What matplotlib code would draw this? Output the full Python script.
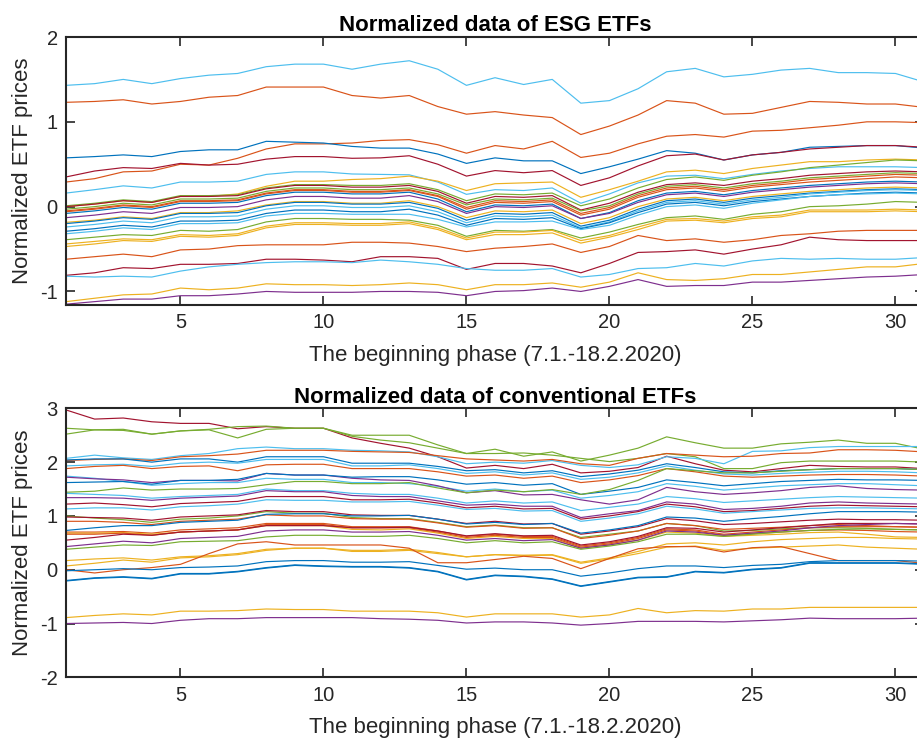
import matplotlib
matplotlib.use("Agg")
import matplotlib.pyplot as plt

# MATLAB default line colours
B, O, Y, P, G, LB, DR = '#0072BD', '#D95319', '#EDB120', '#7E2F8E', '#77AC30', '#4DBEEE', '#A2142F'

days = list(range(1, 32))
x_ticks = [5, 10, 15, 20, 25, 30]

# ---- ESG ETFs (top panel) ----
esg_colors = [LB, O, O, B, DR, LB,
              Y, G, DR, G, O, O, B, P, Y, B, LB, B, LB, G, Y, Y,
              O, DR, LB, Y, P]
esg_lines = [
    [1.43, 1.45, 1.50, 1.45, 1.51, 1.55, 1.57, 1.65, 1.68, 1.68, 1.62, 1.68, 1.72, 1.62, 1.43, 1.52, 1.44, 1.50, 1.22, 1.25, 1.39, 1.59, 1.63, 1.53, 1.56, 1.61, 1.63, 1.58, 1.58, 1.57, 1.47],
    [1.23, 1.24, 1.26, 1.21, 1.24, 1.29, 1.31, 1.41, 1.41, 1.41, 1.31, 1.28, 1.31, 1.18, 1.09, 1.12, 1.08, 1.05, 0.85, 0.95, 1.08, 1.25, 1.22, 1.09, 1.10, 1.17, 1.24, 1.23, 1.21, 1.21, 1.17],
    [0.29, 0.33, 0.41, 0.42, 0.50, 0.49, 0.57, 0.68, 0.74, 0.74, 0.75, 0.78, 0.79, 0.73, 0.63, 0.72, 0.68, 0.77, 0.58, 0.63, 0.74, 0.83, 0.85, 0.82, 0.89, 0.90, 0.93, 0.96, 1.00, 1.00, 0.99],
    [0.575, 0.59, 0.61, 0.59, 0.65, 0.67, 0.67, 0.77, 0.76, 0.75, 0.71, 0.69, 0.69, 0.62, 0.51, 0.575, 0.54, 0.54, 0.39, 0.47, 0.56, 0.66, 0.63, 0.55, 0.61, 0.64, 0.70, 0.71, 0.72, 0.72, 0.69],
    [0.35, 0.42, 0.46, 0.45, 0.51, 0.49, 0.50, 0.56, 0.59, 0.59, 0.57, 0.575, 0.60, 0.50, 0.36, 0.425, 0.40, 0.425, 0.25, 0.34, 0.48, 0.60, 0.62, 0.55, 0.61, 0.64, 0.68, 0.70, 0.72, 0.72, 0.70],
    [0.16, 0.20, 0.245, 0.22, 0.29, 0.29, 0.30, 0.38, 0.41, 0.41, 0.385, 0.38, 0.375, 0.29, 0.145, 0.20, 0.19, 0.22, 0.04, 0.15, 0.28, 0.36, 0.37, 0.33, 0.38, 0.42, 0.45, 0.47, 0.47, 0.47, 0.46],
    [0.00, 0.03, 0.07, 0.05, 0.12, 0.12, 0.15, 0.24, 0.30, 0.30, 0.32, 0.33, 0.36, 0.30, 0.19, 0.27, 0.28, 0.29, 0.11, 0.20, 0.30, 0.41, 0.43, 0.39, 0.45, 0.49, 0.53, 0.53, 0.55, 0.56, 0.55],
    [0.01, 0.04, 0.08, 0.06, 0.13, 0.13, 0.14, 0.22, 0.26, 0.26, 0.25, 0.25, 0.27, 0.20, 0.07, 0.15, 0.14, 0.16, 0.01, 0.09, 0.22, 0.32, 0.35, 0.31, 0.37, 0.41, 0.46, 0.49, 0.52, 0.55, 0.54],
    [0.00, 0.03, 0.07, 0.05, 0.12, 0.12, 0.13, 0.21, 0.25, 0.25, 0.23, 0.23, 0.25, 0.18, 0.04, 0.12, 0.11, 0.13, -0.04, 0.04, 0.17, 0.26, 0.28, 0.25, 0.30, 0.33, 0.37, 0.39, 0.41, 0.42, 0.41],
    [-0.03, 0.00, 0.04, 0.02, 0.09, 0.09, 0.10, 0.18, 0.22, 0.22, 0.20, 0.20, 0.22, 0.15, 0.02, 0.09, 0.08, 0.10, -0.05, 0.01, 0.15, 0.24, 0.26, 0.22, 0.27, 0.30, 0.34, 0.36, 0.38, 0.40, 0.39],
    [-0.05, -0.02, 0.02, 0.00, 0.07, 0.07, 0.08, 0.16, 0.20, 0.20, 0.18, 0.18, 0.20, 0.13, -0.01, 0.07, 0.06, 0.08, -0.08, -0.01, 0.13, 0.22, 0.24, 0.20, 0.25, 0.28, 0.32, 0.34, 0.36, 0.38, 0.37],
    [-0.06, -0.03, 0.01, -0.01, 0.06, 0.06, 0.07, 0.15, 0.19, 0.19, 0.17, 0.17, 0.19, 0.12, -0.03, 0.05, 0.04, 0.06, -0.10, -0.03, 0.11, 0.20, 0.22, 0.18, 0.23, 0.26, 0.29, 0.31, 0.33, 0.35, 0.34],
    [-0.08, -0.05, -0.01, -0.03, 0.04, 0.04, 0.05, 0.13, 0.17, 0.17, 0.15, 0.15, 0.17, 0.09, -0.06, 0.02, 0.01, 0.03, -0.14, -0.07, 0.07, 0.16, 0.18, 0.14, 0.19, 0.22, 0.25, 0.27, 0.29, 0.30, 0.29],
    [-0.13, -0.10, -0.06, -0.08, -0.01, -0.01, 0.00, 0.08, 0.12, 0.12, 0.10, 0.10, 0.13, 0.06, -0.08, 0.00, -0.01, 0.01, -0.14, -0.08, 0.05, 0.14, 0.16, 0.12, 0.17, 0.20, 0.23, 0.25, 0.27, 0.28, 0.27],
    [-0.185, -0.16, -0.12, -0.14, -0.07, -0.07, -0.05, 0.02, 0.06, 0.06, 0.04, 0.04, 0.07, 0.00, -0.13, -0.05, -0.06, -0.04, -0.20, -0.13, 0.00, 0.09, 0.11, 0.07, 0.12, 0.15, 0.18, 0.20, 0.22, 0.23, 0.22],
    [-0.20, -0.17, -0.13, -0.15, -0.08, -0.08, -0.07, 0.01, 0.05, 0.05, 0.03, 0.03, 0.05, -0.02, -0.16, -0.08, -0.09, -0.07, -0.23, -0.16, -0.03, 0.07, 0.09, 0.05, 0.10, 0.13, 0.16, 0.18, 0.20, 0.21, 0.20],
    [-0.24, -0.21, -0.17, -0.19, -0.12, -0.12, -0.11, -0.03, 0.01, 0.01, -0.01, -0.01, 0.01, -0.06, -0.19, -0.11, -0.12, -0.10, -0.25, -0.18, -0.05, 0.05, 0.07, 0.03, 0.08, 0.11, 0.15, 0.17, 0.19, 0.20, 0.19],
    [-0.29, -0.26, -0.22, -0.24, -0.17, -0.17, -0.16, -0.08, -0.04, -0.04, -0.06, -0.06, -0.03, -0.10, -0.22, -0.14, -0.15, -0.13, -0.26, -0.19, -0.07, 0.03, 0.05, 0.01, 0.06, 0.09, 0.12, 0.14, 0.16, 0.17, 0.16],
    [-0.32, -0.29, -0.25, -0.27, -0.20, -0.20, -0.19, -0.11, -0.08, -0.08, -0.09, -0.09, -0.09, -0.15, -0.24, -0.18, -0.18, -0.17, -0.27, -0.22, -0.10, 0.00, 0.02, -0.02, 0.04, 0.08, 0.12, 0.14, 0.15, 0.16, 0.15],
    [-0.39, -0.36, -0.33, -0.34, -0.28, -0.29, -0.27, -0.18, -0.14, -0.14, -0.15, -0.15, -0.16, -0.22, -0.35, -0.28, -0.29, -0.27, -0.37, -0.30, -0.21, -0.13, -0.11, -0.15, -0.09, -0.06, 0.00, 0.01, 0.03, 0.06, 0.05],
    [-0.44, -0.41, -0.38, -0.39, -0.33, -0.34, -0.32, -0.23, -0.19, -0.19, -0.20, -0.20, -0.18, -0.25, -0.37, -0.30, -0.30, -0.28, -0.40, -0.34, -0.24, -0.15, -0.14, -0.17, -0.12, -0.10, -0.04, -0.04, -0.04, -0.03, -0.04],
    [-0.47, -0.44, -0.40, -0.41, -0.35, -0.36, -0.34, -0.25, -0.21, -0.21, -0.22, -0.22, -0.20, -0.27, -0.39, -0.33, -0.33, -0.31, -0.43, -0.36, -0.27, -0.17, -0.16, -0.19, -0.14, -0.12, -0.06, -0.06, -0.06, -0.05, -0.06],
    [-0.62, -0.59, -0.56, -0.59, -0.51, -0.50, -0.46, -0.45, -0.45, -0.45, -0.42, -0.42, -0.43, -0.47, -0.53, -0.49, -0.47, -0.44, -0.54, -0.47, -0.34, -0.40, -0.38, -0.42, -0.39, -0.34, -0.32, -0.29, -0.28, -0.28, -0.28],
    [-0.81, -0.78, -0.72, -0.73, -0.68, -0.68, -0.67, -0.62, -0.62, -0.63, -0.65, -0.59, -0.59, -0.61, -0.74, -0.67, -0.67, -0.70, -0.78, -0.67, -0.54, -0.53, -0.51, -0.56, -0.50, -0.45, -0.36, -0.39, -0.40, -0.40, -0.40],
    [-0.82, -0.83, -0.82, -0.83, -0.76, -0.71, -0.68, -0.66, -0.65, -0.65, -0.66, -0.63, -0.65, -0.68, -0.73, -0.75, -0.75, -0.73, -0.83, -0.80, -0.73, -0.72, -0.67, -0.70, -0.64, -0.61, -0.62, -0.61, -0.62, -0.62, -0.60],
    [-1.12, -1.08, -1.04, -1.03, -0.96, -0.98, -0.96, -0.91, -0.92, -0.92, -0.93, -0.92, -0.90, -0.92, -0.98, -0.92, -0.92, -0.90, -0.95, -0.89, -0.78, -0.86, -0.87, -0.85, -0.80, -0.80, -0.77, -0.74, -0.71, -0.71, -0.67],
    [-1.15, -1.12, -1.09, -1.09, -1.05, -1.05, -1.03, -1.00, -1.01, -1.01, -1.01, -1.00, -1.00, -1.01, -1.05, -1.00, -0.99, -0.96, -1.00, -0.94, -0.86, -0.94, -0.93, -0.93, -0.89, -0.89, -0.87, -0.85, -0.83, -0.82, -0.80],
]

# ---- conventional ETFs (bottom panel) ----
conv_colors = [DR, G, G, LB, O, B, LB, O, LB, P, B, G, LB, P, DR, LB,
               G, DR, O, B, O, Y, O, DR, P, G, Y, Y, O, B, B, B, Y, P]
conv_lines = [
    [2.97, 2.80, 2.82, 2.75, 2.72, 2.72, 2.62, 2.66, 2.63, 2.63, 2.45, 2.35, 2.26, 2.10, 1.89, 1.94, 1.88, 1.96, 1.80, 1.83, 1.90, 2.11, 1.97, 1.85, 1.82, 1.88, 1.94, 1.92, 1.91, 1.91, 1.88],
    [2.63, 2.60, 2.61, 2.52, 2.58, 2.61, 2.66, 2.67, 2.63, 2.63, 2.50, 2.50, 2.50, 2.32, 2.16, 2.24, 2.11, 2.19, 2.02, 2.13, 2.26, 2.47, 2.36, 2.26, 2.26, 2.34, 2.37, 2.41, 2.35, 2.35, 2.24],
    [2.52, 2.60, 2.59, 2.52, 2.58, 2.60, 2.45, 2.61, 2.63, 2.63, 2.48, 2.41, 2.36, 2.26, 2.16, 2.16, 2.17, 2.13, 2.07, 2.01, 2.07, 2.16, 2.10, 1.88, 1.88, 1.99, 2.02, 2.02, 2.02, 2.02, 2.00],
    [2.07, 2.13, 2.08, 2.05, 2.12, 2.16, 2.25, 2.28, 2.25, 2.25, 2.22, 2.21, 2.19, 2.10, 1.97, 2.00, 1.98, 2.03, 1.94, 1.90, 1.95, 2.10, 2.07, 1.97, 2.20, 2.21, 2.27, 2.29, 2.29, 2.29, 2.29],
    [2.03, 2.05, 2.06, 2.03, 2.10, 2.12, 2.15, 2.22, 2.22, 2.22, 2.20, 2.19, 2.18, 2.12, 2.06, 2.04, 2.02, 2.05, 1.97, 1.94, 2.07, 2.16, 2.13, 2.10, 2.11, 2.16, 2.17, 2.23, 2.23, 2.22, 2.19],
    [2.04, 2.06, 2.06, 2.00, 2.06, 2.06, 2.00, 2.10, 2.10, 2.10, 1.98, 1.98, 1.98, 1.92, 1.84, 1.86, 1.80, 1.84, 1.73, 1.78, 1.85, 1.97, 1.90, 1.82, 1.80, 1.84, 1.86, 1.88, 1.88, 1.88, 1.86],
    [1.93, 1.95, 1.96, 1.92, 1.98, 2.00, 1.98, 2.05, 2.05, 2.05, 1.93, 1.93, 1.95, 1.88, 1.79, 1.82, 1.76, 1.80, 1.68, 1.72, 1.80, 1.93, 1.85, 1.78, 1.76, 1.79, 1.81, 1.83, 1.83, 1.82, 1.80],
    [1.88, 1.92, 1.94, 1.88, 1.92, 1.93, 1.84, 1.95, 1.96, 1.96, 1.88, 1.88, 1.88, 1.82, 1.74, 1.76, 1.70, 1.74, 1.62, 1.67, 1.75, 1.88, 1.82, 1.74, 1.72, 1.74, 1.76, 1.77, 1.77, 1.76, 1.74],
    [1.74, 1.70, 1.64, 1.57, 1.60, 1.62, 1.62, 1.70, 1.68, 1.68, 1.62, 1.62, 1.60, 1.55, 1.46, 1.50, 1.45, 1.48, 1.33, 1.38, 1.45, 1.60, 1.55, 1.48, 1.52, 1.56, 1.58, 1.60, 1.60, 1.58, 1.56],
    [1.72, 1.69, 1.67, 1.62, 1.66, 1.66, 1.65, 1.79, 1.76, 1.76, 1.70, 1.67, 1.66, 1.56, 1.43, 1.47, 1.39, 1.40, 1.30, 1.22, 1.30, 1.53, 1.45, 1.40, 1.43, 1.47, 1.53, 1.56, 1.51, 1.49, 1.48],
    [1.62, 1.63, 1.64, 1.59, 1.66, 1.66, 1.68, 1.79, 1.76, 1.76, 1.72, 1.73, 1.73, 1.67, 1.59, 1.62, 1.57, 1.60, 1.40, 1.46, 1.53, 1.67, 1.62, 1.56, 1.60, 1.64, 1.66, 1.68, 1.67, 1.67, 1.66],
    [1.44, 1.46, 1.52, 1.48, 1.50, 1.50, 1.51, 1.58, 1.64, 1.64, 1.60, 1.60, 1.62, 1.52, 1.43, 1.48, 1.45, 1.49, 1.40, 1.49, 1.66, 1.88, 1.84, 1.80, 1.80, 1.83, 1.86, 1.88, 1.88, 1.88, 1.86],
    [1.42, 1.40, 1.38, 1.33, 1.36, 1.38, 1.40, 1.50, 1.47, 1.47, 1.42, 1.40, 1.40, 1.33, 1.24, 1.28, 1.24, 1.26, 1.10, 1.16, 1.22, 1.36, 1.32, 1.25, 1.28, 1.31, 1.34, 1.36, 1.35, 1.34, 1.33],
    [1.34, 1.34, 1.33, 1.29, 1.33, 1.35, 1.37, 1.47, 1.45, 1.45, 1.38, 1.36, 1.36, 1.28, 1.20, 1.22, 1.18, 1.18, 0.97, 1.04, 1.10, 1.26, 1.22, 1.12, 1.14, 1.18, 1.24, 1.26, 1.24, 1.23, 1.22],
    [1.22, 1.24, 1.21, 1.17, 1.23, 1.25, 1.27, 1.36, 1.36, 1.36, 1.30, 1.30, 1.31, 1.24, 1.15, 1.18, 1.13, 1.14, 0.94, 1.00, 1.08, 1.22, 1.17, 1.08, 1.10, 1.14, 1.18, 1.20, 1.19, 1.18, 1.17],
    [1.13, 1.15, 1.15, 1.11, 1.17, 1.19, 1.22, 1.30, 1.29, 1.29, 1.26, 1.26, 1.27, 1.20, 1.12, 1.14, 1.09, 1.10, 0.90, 0.96, 1.04, 1.18, 1.13, 1.05, 1.08, 1.11, 1.14, 1.15, 1.15, 1.14, 1.13],
    [1.00, 0.96, 0.93, 0.88, 0.94, 0.96, 1.00, 1.08, 1.05, 1.05, 0.97, 0.95, 0.95, 0.88, 0.80, 0.83, 0.78, 0.78, 0.60, 0.66, 0.72, 0.86, 0.82, 0.72, 0.73, 0.76, 0.78, 0.78, 0.77, 0.75, 0.74],
    [0.98, 0.97, 0.96, 0.92, 0.98, 1.00, 1.02, 1.10, 1.08, 1.08, 1.02, 1.01, 1.01, 0.94, 0.86, 0.90, 0.85, 0.86, 0.66, 0.72, 0.80, 0.95, 0.91, 0.84, 0.86, 0.89, 0.92, 0.94, 0.93, 0.93, 0.92],
    [0.90, 0.90, 0.88, 0.84, 0.90, 0.92, 0.94, 1.02, 1.00, 1.00, 0.95, 0.94, 0.94, 0.87, 0.79, 0.82, 0.77, 0.78, 0.58, 0.64, 0.72, 0.86, 0.82, 0.75, 0.77, 0.79, 0.82, 0.84, 0.82, 0.80, 0.79],
    [0.73, 0.78, 0.82, 0.82, 0.88, 0.90, 0.92, 1.03, 1.04, 1.04, 1.00, 1.00, 1.01, 0.94, 0.85, 0.88, 0.84, 0.86, 0.68, 0.74, 0.82, 0.98, 0.96, 0.90, 0.95, 0.99, 1.04, 1.08, 1.08, 1.08, 1.07],
    [0.70, 0.70, 0.71, 0.68, 0.74, 0.76, 0.78, 0.86, 0.86, 0.86, 0.80, 0.80, 0.80, 0.72, 0.62, 0.66, 0.62, 0.62, 0.44, 0.50, 0.60, 0.76, 0.74, 0.66, 0.70, 0.74, 0.78, 0.80, 0.80, 0.80, 0.79],
    [0.68, 0.68, 0.69, 0.66, 0.70, 0.72, 0.74, 0.82, 0.82, 0.82, 0.75, 0.74, 0.76, 0.68, 0.58, 0.62, 0.58, 0.58, 0.40, 0.46, 0.55, 0.70, 0.68, 0.62, 0.64, 0.66, 0.69, 0.70, 0.66, 0.61, 0.60],
    [0.66, 0.66, 0.68, 0.64, 0.70, 0.72, 0.74, 0.84, 0.84, 0.84, 0.78, 0.78, 0.78, 0.70, 0.60, 0.64, 0.60, 0.60, 0.42, 0.48, 0.58, 0.74, 0.72, 0.64, 0.67, 0.70, 0.73, 0.74, 0.73, 0.71, 0.70],
    [0.55, 0.60, 0.66, 0.64, 0.70, 0.72, 0.74, 0.82, 0.82, 0.82, 0.78, 0.78, 0.79, 0.72, 0.63, 0.67, 0.63, 0.64, 0.46, 0.52, 0.62, 0.78, 0.77, 0.70, 0.74, 0.78, 0.82, 0.86, 0.86, 0.86, 0.85],
    [0.43, 0.48, 0.53, 0.50, 0.58, 0.60, 0.62, 0.72, 0.74, 0.74, 0.70, 0.70, 0.71, 0.64, 0.55, 0.58, 0.54, 0.56, 0.40, 0.46, 0.55, 0.72, 0.70, 0.64, 0.68, 0.72, 0.78, 0.82, 0.84, 0.86, 0.85],
    [0.38, 0.42, 0.46, 0.45, 0.52, 0.53, 0.54, 0.61, 0.64, 0.64, 0.62, 0.62, 0.64, 0.58, 0.50, 0.54, 0.50, 0.52, 0.38, 0.44, 0.52, 0.66, 0.66, 0.62, 0.66, 0.70, 0.73, 0.75, 0.76, 0.75, 0.74],
    [0.17, 0.20, 0.22, 0.18, 0.24, 0.26, 0.30, 0.38, 0.40, 0.40, 0.34, 0.34, 0.36, 0.30, 0.24, 0.28, 0.27, 0.28, 0.14, 0.22, 0.34, 0.48, 0.50, 0.46, 0.52, 0.56, 0.58, 0.60, 0.60, 0.58, 0.57],
    [0.07, 0.12, 0.18, 0.14, 0.22, 0.24, 0.28, 0.36, 0.40, 0.40, 0.36, 0.36, 0.38, 0.32, 0.24, 0.28, 0.26, 0.27, 0.12, 0.20, 0.30, 0.42, 0.44, 0.36, 0.40, 0.42, 0.44, 0.46, 0.42, 0.40, 0.38],
    [0.00, -0.06, 0.00, 0.04, 0.10, 0.30, 0.48, 0.52, 0.46, 0.46, 0.46, 0.46, 0.40, 0.13, 0.13, 0.19, 0.25, 0.21, 0.02, 0.21, 0.39, 0.43, 0.43, 0.33, 0.41, 0.43, 0.30, 0.17, 0.17, 0.17, 0.12],
    [-0.02, 0.00, 0.02, 0.00, 0.04, 0.05, 0.07, 0.15, 0.17, 0.17, 0.14, 0.14, 0.15, 0.08, 0.01, 0.03, 0.00, 0.00, -0.12, -0.06, 0.02, 0.07, 0.07, 0.04, 0.08, 0.10, 0.15, 0.17, 0.17, 0.17, 0.16],
    [-0.20, -0.15, -0.13, -0.16, -0.07, -0.07, -0.03, 0.04, 0.09, 0.07, 0.06, 0.06, 0.04, -0.03, -0.18, -0.10, -0.12, -0.17, -0.30, -0.22, -0.14, -0.13, -0.03, -0.05, 0.01, 0.04, 0.13, 0.13, 0.13, 0.13, 0.11],
    [-0.21, -0.16, -0.14, -0.17, -0.08, -0.08, -0.04, 0.03, 0.08, 0.06, 0.05, 0.05, 0.03, -0.04, -0.19, -0.11, -0.13, -0.18, -0.31, -0.23, -0.15, -0.14, -0.04, -0.06, 0.00, 0.03, 0.12, 0.12, 0.12, 0.12, 0.10],
    [-0.89, -0.85, -0.82, -0.84, -0.77, -0.77, -0.76, -0.73, -0.74, -0.74, -0.77, -0.77, -0.77, -0.80, -0.88, -0.82, -0.82, -0.82, -0.88, -0.84, -0.72, -0.80, -0.76, -0.77, -0.73, -0.73, -0.70, -0.70, -0.70, -0.70, -0.70],
    [-1.00, -0.99, -0.98, -1.00, -0.94, -0.91, -0.91, -0.89, -0.89, -0.89, -0.89, -0.91, -0.92, -0.94, -0.99, -0.97, -0.97, -0.99, -1.03, -1.00, -0.96, -0.96, -0.96, -0.97, -0.95, -0.93, -0.90, -0.91, -0.91, -0.91, -0.90],
]

plt.rcParams['font.family'] = ['Liberation Sans', 'DejaVu Sans']
plt.rcParams['axes.unicode_minus'] = False
AX_COL = '#262626'

fig = plt.figure(figsize=(9.17, 7.40), dpi=100)


def style(ax, title, ylim, yticks):
    ax.set_xlim(1, 31)
    ax.set_ylim(*ylim)
    ax.set_xticks(x_ticks)
    ax.set_yticks(yticks)
    ax.tick_params(direction='in', length=6.5, width=1.2, top=True, right=True,
                   labelsize=14.5, colors=AX_COL, pad=6)
    for s in ax.spines.values():
        s.set_linewidth(1.5)
        s.set_color(AX_COL)
    ax.set_title(title, fontsize=16, fontweight='bold', pad=4)
    ax.set_xlabel('The beginning phase (7.1.-18.2.2020)', fontsize=16, color=AX_COL, labelpad=9)
    ax.set_ylabel('Normalized ETF prices', fontsize=16, color=AX_COL, labelpad=5)


ax1 = fig.add_axes([0.072, 0.5878, 0.9357, 0.3622])
for vals, c in zip(esg_lines, esg_colors):
    ax1.plot(days, vals, color=c, lw=0.85)
style(ax1, 'Normalized data of ESG ETFs', (-1.16, 2), [-1, 0, 1, 2])

ax2 = fig.add_axes([0.072, 0.0847, 0.9357, 0.3635])
for vals, c in zip(conv_lines, conv_colors):
    ax2.plot(days, vals, color=c, lw=0.85)
style(ax2, 'Normalized data of conventional ETFs', (-2, 3), [-2, -1, 0, 1, 2, 3])

fig.savefig('out.png', dpi=100)
